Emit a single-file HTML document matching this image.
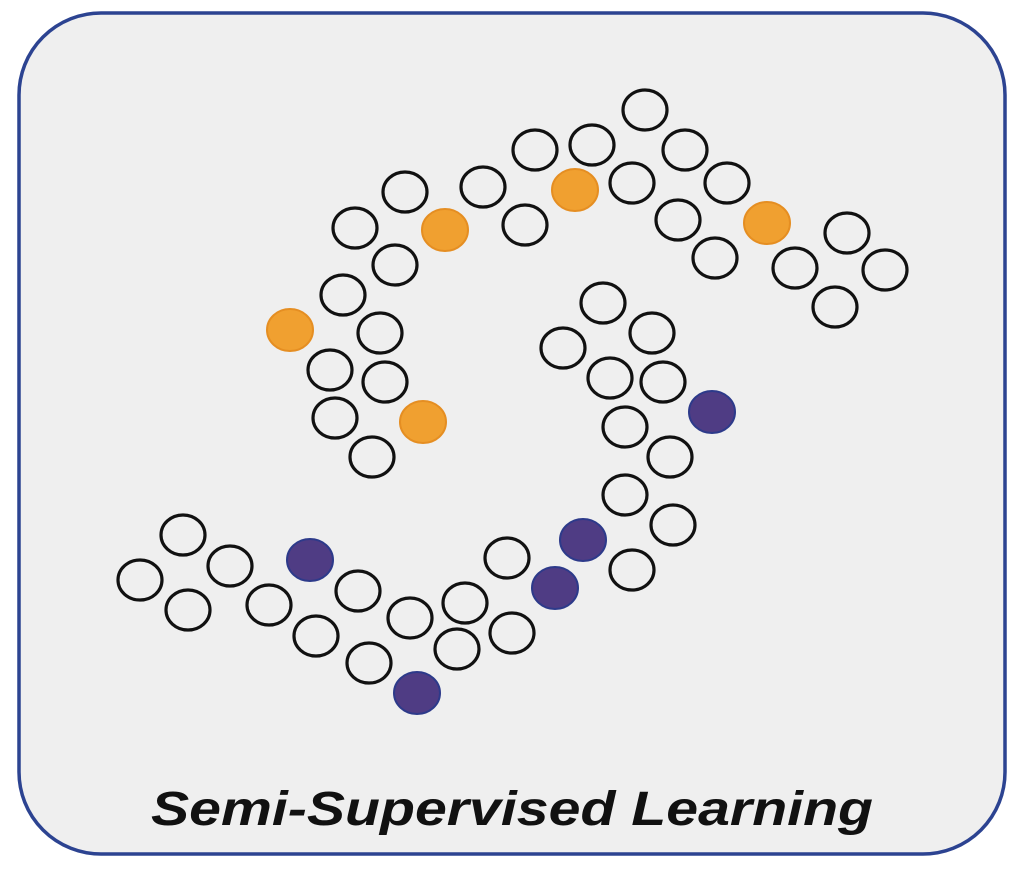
<!DOCTYPE html>
<html><head><style>
body{margin:0;background:#fff;width:1024px;height:871px;overflow:hidden}
</style></head><body>
<svg width="1024" height="871" xmlns="http://www.w3.org/2000/svg">
<rect x="19" y="13" width="986" height="841" rx="82" ry="82" fill="#efefef" stroke="#2c4391" stroke-width="3.5"/>
<g fill="none" stroke="#111" stroke-width="3.2">
<ellipse cx="645" cy="110" rx="22" ry="20"/><ellipse cx="535" cy="150" rx="22" ry="20"/><ellipse cx="592" cy="145" rx="22" ry="20"/><ellipse cx="685" cy="150" rx="22" ry="20"/><ellipse cx="632" cy="183" rx="22" ry="20"/><ellipse cx="727" cy="183" rx="22" ry="20"/><ellipse cx="483" cy="187" rx="22" ry="20"/><ellipse cx="405" cy="192" rx="22" ry="20"/><ellipse cx="525" cy="225" rx="22" ry="20"/><ellipse cx="678" cy="220" rx="22" ry="20"/><ellipse cx="847" cy="233" rx="22" ry="20"/><ellipse cx="355" cy="228" rx="22" ry="20"/><ellipse cx="395" cy="265" rx="22" ry="20"/><ellipse cx="715" cy="258" rx="22" ry="20"/><ellipse cx="795" cy="268" rx="22" ry="20"/><ellipse cx="885" cy="270" rx="22" ry="20"/><ellipse cx="343" cy="295" rx="22" ry="20"/><ellipse cx="380" cy="333" rx="22" ry="20"/><ellipse cx="835" cy="307" rx="22" ry="20"/><ellipse cx="330" cy="370" rx="22" ry="20"/><ellipse cx="385" cy="382" rx="22" ry="20"/><ellipse cx="335" cy="418" rx="22" ry="20"/><ellipse cx="372" cy="457" rx="22" ry="20"/>
<ellipse cx="603" cy="303" rx="22" ry="20"/><ellipse cx="652" cy="333" rx="22" ry="20"/><ellipse cx="563" cy="348" rx="22" ry="20"/><ellipse cx="610" cy="378" rx="22" ry="20"/><ellipse cx="663" cy="382" rx="22" ry="20"/><ellipse cx="625" cy="427" rx="22" ry="20"/><ellipse cx="670" cy="457" rx="22" ry="20"/><ellipse cx="625" cy="495" rx="22" ry="20"/><ellipse cx="673" cy="525" rx="22" ry="20"/><ellipse cx="632" cy="570" rx="22" ry="20"/><ellipse cx="507" cy="558" rx="22" ry="20"/>
<ellipse cx="183" cy="535" rx="22" ry="20"/><ellipse cx="230" cy="566" rx="22" ry="20"/><ellipse cx="140" cy="580" rx="22" ry="20"/><ellipse cx="188" cy="610" rx="22" ry="20"/><ellipse cx="358" cy="591" rx="22" ry="20"/><ellipse cx="269" cy="605" rx="22" ry="20"/><ellipse cx="316" cy="636" rx="22" ry="20"/><ellipse cx="410" cy="618" rx="22" ry="20"/><ellipse cx="465" cy="603" rx="22" ry="20"/><ellipse cx="512" cy="633" rx="22" ry="20"/><ellipse cx="457" cy="649" rx="22" ry="20"/><ellipse cx="369" cy="663" rx="22" ry="20"/>
</g>
<g fill="#f0a030" stroke="#e58e22" stroke-width="2">
<ellipse cx="575" cy="190" rx="23" ry="21"/><ellipse cx="445" cy="230" rx="23" ry="21"/><ellipse cx="767" cy="223" rx="23" ry="21"/><ellipse cx="290" cy="330" rx="23" ry="21"/><ellipse cx="423" cy="422" rx="23" ry="21"/>
</g>
<g fill="#4f3c84" stroke="#2d3a8a" stroke-width="2">
<ellipse cx="712" cy="412" rx="23" ry="21"/><ellipse cx="583" cy="540" rx="23" ry="21"/><ellipse cx="555" cy="588" rx="23" ry="21"/><ellipse cx="310" cy="560" rx="23" ry="21"/><ellipse cx="417" cy="693" rx="23" ry="21"/>
</g>
<text x="512" y="825" text-anchor="middle" font-family="Liberation Sans, sans-serif" font-weight="bold" font-style="italic" font-size="48" fill="#111" textLength="722" lengthAdjust="spacingAndGlyphs">Semi-Supervised Learning</text>
</svg>
</body></html>
